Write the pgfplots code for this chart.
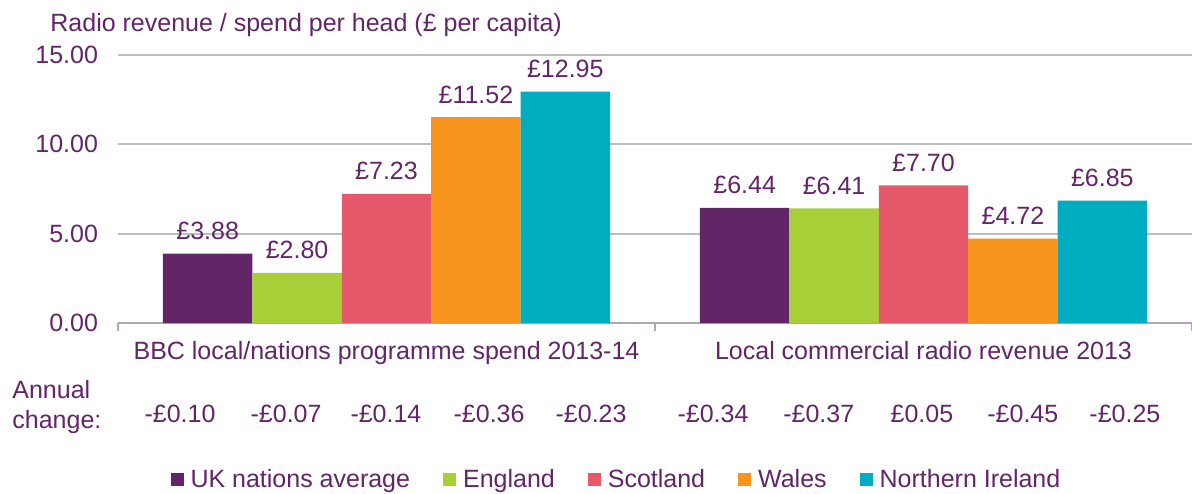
\documentclass[border=0pt]{standalone}
\usepackage{fontspec}
\setmainfont{Liberation Sans}
\usepackage{pgfplots}
\pgfplotsset{compat=1.18}
\usetikzlibrary{calc}
\definecolor{ofpurple}{HTML}{622567}
\definecolor{ofgreen}{HTML}{A8CF38}
\definecolor{ofred}{HTML}{E6596A}
\definecolor{oforange}{HTML}{F7941E}
\definecolor{ofteal}{HTML}{00ACBF}
\definecolor{gridgray}{HTML}{BEBEBE}
\definecolor{axisgray}{HTML}{B3A6B5}

\begin{document}
\begin{tikzpicture}[font=\fontsize{12.5}{14}\selectfont]
% page = 1192 x 493 px at 0.5pt per px
\path[use as bounding box] (-59pt,-85pt) rectangle (537pt,161.5pt);
\begin{axis}[
    name=ax,
    scale only axis, width=537pt, height=134pt,
    ybar=0pt, bar width=0.1665,
    xmin=-0.5, xmax=1.5, ymin=0, ymax=15,
    clip=false,
    axis x line*=bottom, axis y line*=left,
    axis line style={-},
    y axis line style={draw=none},
    x axis line style={axisgray, line width=0.8pt},
    xtick={-0.5,0.5,1.5}, xticklabels={},
    tick align=outside,
    major x tick style={axisgray, line width=0.8pt},
    major tick length=4pt,
    extra x ticks={0,1},
    extra x tick labels={BBC local/nations programme spend 2013-14, Local commercial radio revenue 2013},
    extra x tick style={major tick length=0pt, tick label style={yshift=-5.5pt}},
    ytick={5,10,15},
    major y tick style={draw=none},
    extra y ticks={0},
    extra y tick style={grid=none},
    ymajorgrids, grid style={gridgray, line width=1.1pt},
    yticklabel style={/pgf/number format/fixed, /pgf/number format/fixed zerofill,
        /pgf/number format/precision=2, xshift=-2.5pt},
    tick label style={text=ofpurple},
    /pgf/number format/assume math mode=true,
    nodes near coords={£\pgfmathprintnumber[fixed,fixed zerofill,precision=2]{\pgfplotspointmeta}},
    every node near coord/.append style={text=ofpurple, anchor=base, yshift=7pt},
    legend columns=5,
    legend style={draw=none, at={(0.465,-0.586)}, anchor=center,
        text=ofpurple, /tikz/every even column/.append style={column sep=14.5pt}},
    legend image code/.code={\fill[#1,draw=none] (0pt,-3pt) rectangle (6.5pt,3.5pt);
        \path (0pt,0pt) -- (8pt,0pt);},
]
\addplot[fill=ofpurple, draw=none] coordinates {(0,3.88) (1,6.44)};
\addplot[fill=ofgreen, draw=none] coordinates {(0,2.80) (1,6.41)};
\addplot[fill=ofred, draw=none] coordinates {(0,7.23) (1,7.70)};
\addplot[fill=oforange, draw=none] coordinates {(0,11.52) (1,4.72)};
\addplot[fill=ofteal, draw=none] coordinates {(0,12.95) (1,6.85)};
\legend{UK nations average, England, Scotland, Wales, Northern Ireland}

% annual change row
\node[text=ofpurple, anchor=base, yshift=-49.5pt] at (axis cs:-0.3845,0) {-£0.10};
\node[text=ofpurple, anchor=base, yshift=-49.5pt] at (axis cs:-0.187,0) {-£0.07};
\node[text=ofpurple, anchor=base, yshift=-49.5pt] at (axis cs:-0.001,0) {-£0.14};
\node[text=ofpurple, anchor=base, yshift=-49.5pt] at (axis cs:0.191,0) {-£0.36};
\node[text=ofpurple, anchor=base, yshift=-49.5pt] at (axis cs:0.381,0) {-£0.23};
\node[text=ofpurple, anchor=base, yshift=-49.5pt] at (axis cs:0.608,0) {-£0.34};
\node[text=ofpurple, anchor=base, yshift=-49.5pt] at (axis cs:0.805,0) {-£0.37};
\node[text=ofpurple, anchor=base, yshift=-49.5pt] at (axis cs:0.997,0) {£0.05};
\node[text=ofpurple, anchor=base, yshift=-49.5pt] at (axis cs:1.185,0) {-£0.45};
\node[text=ofpurple, anchor=base, yshift=-49.5pt] at (axis cs:1.375,0) {-£0.25};
\end{axis}
\node[anchor=base west, inner sep=0pt, text=ofpurple] at ($(ax.north west)+(-34pt,12pt)$) {Radio revenue / spend per head (£ per capita)};
\node[anchor=base west, inner sep=0pt, text=ofpurple] at ($(ax.south west)+(-53pt,-37.5pt)$) {Annual};
\node[anchor=base west, inner sep=0pt, text=ofpurple] at ($(ax.south west)+(-53pt,-52.5pt)$) {change:};
\end{tikzpicture}
\end{document}
